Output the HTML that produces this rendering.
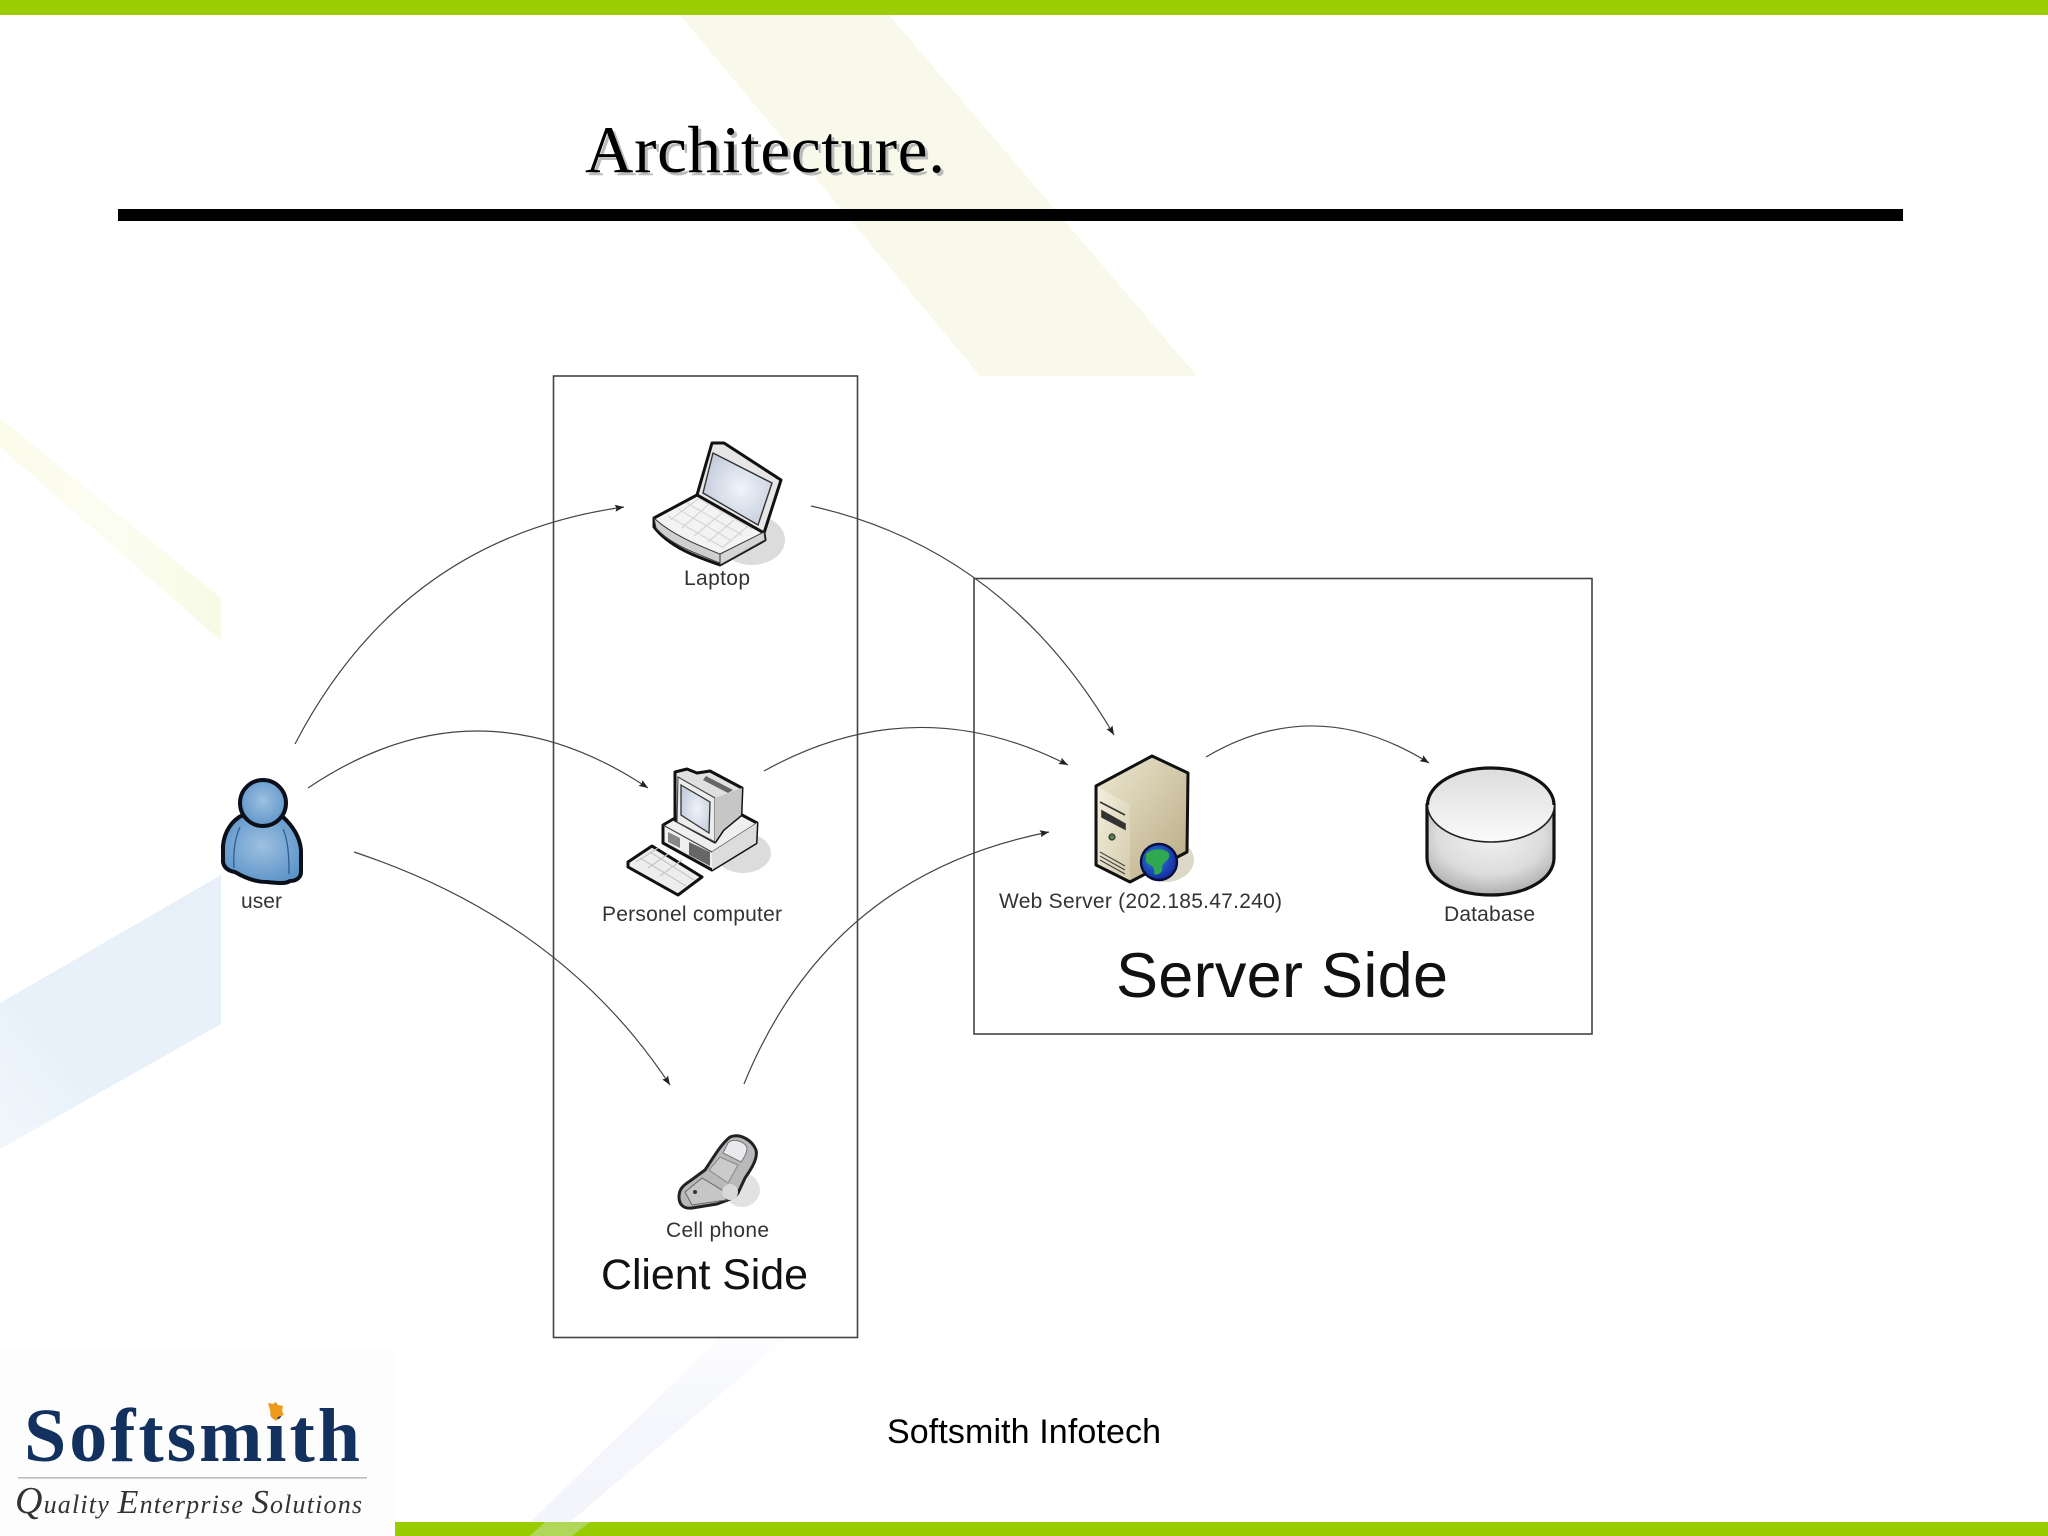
<!DOCTYPE html>
<html lang="en">
<head>
<meta charset="utf-8">
<title>Architecture</title>
<style>
html,body{margin:0;padding:0;background:#fff;width:2048px;height:1536px;overflow:hidden}
svg{display:block}
.s{font-family:"Liberation Sans",Arial,sans-serif}
.t{font-family:"Liberation Serif","Times New Roman",serif}
.lab{fill:#333;font-size:21px}
</style>
</head>
<body>
<svg xmlns="http://www.w3.org/2000/svg" width="2048" height="1536" viewBox="0 0 2048 1536">
<defs>
<marker id="ah" markerUnits="userSpaceOnUse" markerWidth="10" markerHeight="8" refX="9" refY="3.5" orient="auto">
<path d="M0 0L9 3.5L0 7L1.5 3.5Z" fill="#222"/>
</marker>
<radialGradient id="ub" cx=".5" cy=".45" r=".6"><stop offset="0" stop-color="#9dc0e0"/><stop offset="1" stop-color="#5b93c8"/></radialGradient>
<radialGradient id="scr" cx=".55" cy=".5" r=".6"><stop offset="0" stop-color="#f0f4fa"/><stop offset="1" stop-color="#c3ccdb"/></radialGradient>
<radialGradient id="cyl" cx=".5" cy=".35" r=".7"><stop offset="0" stop-color="#f2f2f2"/><stop offset=".6" stop-color="#dcdcdc"/><stop offset="1" stop-color="#a6a6a6"/></radialGradient>
<linearGradient id="cylt" x1="0" y1="0" x2="0" y2="1"><stop offset="0" stop-color="#dcdcdc"/><stop offset="1" stop-color="#fafafa"/></linearGradient>
<linearGradient id="srv" x1="0" y1="0" x2="1" y2="1"><stop offset="0" stop-color="#efe9d3"/><stop offset="1" stop-color="#b7aa82"/></linearGradient>
<linearGradient id="srvf" x1="0" y1="0" x2="1" y2="1"><stop offset="0" stop-color="#f2eedd"/><stop offset="1" stop-color="#d5ccac"/></linearGradient>
<radialGradient id="gl" cx=".4" cy=".4" r=".65"><stop offset="0" stop-color="#2f7fe0"/><stop offset="1" stop-color="#12259c"/></radialGradient>
<linearGradient id="fadeB" x1="0" y1="0" x2="0" y2="1"><stop offset="0" stop-color="#f7f8fc" stop-opacity=".4"/><stop offset=".5" stop-color="#f4f6fb"/><stop offset="1" stop-color="#f3f5fb"/></linearGradient>
<linearGradient id="fadeY" x1="0" y1="0" x2="1" y2="0"><stop offset="0" stop-color="#fbfcea"/><stop offset=".5" stop-color="#fcfdf2"/><stop offset="1" stop-color="#f8fae6"/></linearGradient>
<linearGradient id="fadeL" x1="0" y1="1" x2="1" y2="0"><stop offset="0" stop-color="#f2f7fc"/><stop offset=".3" stop-color="#e8f1f9"/><stop offset="1" stop-color="#e7f0f9"/></linearGradient>
</defs>

<!-- background -->
<rect width="2048" height="1536" fill="#fff"/>
<polygon points="680,15 889,15 1197,376 980,376" fill="#f8f9ea"/>
<polygon points="0,418 221,598 221,641 0,447" fill="url(#fadeY)"/>
<polygon points="0,1003 221,875 221,1024 0,1149" fill="url(#fadeL)"/>
<polygon points="720,1338 787,1338 570,1522 530,1522" fill="url(#fadeB)"/>
<rect x="0" y="1350" width="395" height="186" fill="#fdfdfd"/>

<!-- bars -->
<rect x="0" y="0" width="2048" height="15" fill="#9ccc04"/>
<rect x="395" y="1522" width="1653" height="14" fill="#99cc00"/>
<polygon points="545,1522 590,1522 572,1536 530,1536" fill="#b0d75a"/>

<!-- title -->
<text class="t" x="585" y="172" font-size="67" textLength="360" lengthAdjust="spacing" fill="#000" style="filter:drop-shadow(3px 3px 0 #bbb)">Architecture.</text>
<rect x="118" y="209" width="1785" height="12" fill="#000"/>

<!-- boxes -->
<rect x="553.5" y="376" width="304" height="961.5" fill="none" stroke="#444" stroke-width="1.6"/>
<rect x="974" y="578.5" width="618" height="455.5" fill="none" stroke="#444" stroke-width="1.6"/>

<!-- connectors -->
<g fill="none" stroke="#444" stroke-width="1.2" marker-end="url(#ah)">
<path d="M295 744Q402 538 624 507"/>
<path d="M308 788Q477 674 648 788"/>
<path d="M354 852Q562 921 670 1085"/>
<path d="M744 1084Q829 875 1049 832"/>
<path d="M764 771Q915 687 1068 765"/>
<path d="M811 506Q1005 549 1114 735"/>
<path d="M1206 757Q1316 692 1429 763"/>
</g>

<!-- user -->
<path d="M243 815C232 820 224 832 223 846L223 862C224 868 229 871 235 872C245 878 256 882 267 882C278 883 286 884 290 881C297 881 301 877 301 872L301 850C300 838 293 826 282 816Z" fill="url(#ub)" stroke="#0a0f1a" stroke-width="4" stroke-linejoin="round"/>
<path d="M240 827C235 838 233 852 234 868M283 829C288 840 289 855 289 874" fill="none" stroke="#2f5d8f" stroke-width="1.3"/>
<circle cx="263" cy="803" r="23" fill="url(#ub)" stroke="#0a0f1a" stroke-width="4"/>

<!-- laptop -->
<ellipse cx="752" cy="540" rx="33" ry="25" fill="#dcdcdc"/>
<path d="M712 443L724 443L781 480L764 533L697 495Z" fill="#e6e6e6" stroke="#111" stroke-width="3" stroke-linejoin="round"/>
<polygon points="713,453 772,483 758,525 703,493" fill="url(#scr)" stroke="#333" stroke-width="1.4"/>
<path d="M654 518L697 495L764 533L765 540L720 565C700 558 670 548 654 527Z" fill="#f3f3f3" stroke="#111" stroke-width="3" stroke-linejoin="round"/>
<path d="M654 518L656 528C670 545 700 555 720 563L720 554C700 546 672 535 654 518Z" fill="#cfcfcf" stroke="#333" stroke-width="1"/>
<path d="M720 554L764 532L765 540L720 565Z" fill="#d5d5d5" stroke="#333" stroke-width="1"/>
<g stroke="#d6d6d6" stroke-width="1.2" fill="none">
<path d="M668 516L722 547M678 509L732 541M687 503L742 535M698 498L752 529"/>
<path d="M670 520L698 499M682 528L708 505M694 536L722 513M708 542L734 520M722 548L748 526"/>
</g>

<!-- personal computer -->
<ellipse cx="743" cy="853" rx="28" ry="20" fill="#dcdcdc"/>
<path d="M663 825L675 818L742 815L757 823L756 843L712 870L663 843Z" fill="#efefef" stroke="#111" stroke-width="3" stroke-linejoin="round"/>
<path d="M663 825L712 852L757 823" fill="none" stroke="#444" stroke-width="1.2"/>
<path d="M712 852L757 823L756 843L712 870Z" fill="#dcdcdc"/>
<path d="M689 842L710 852L710 866L689 855Z" fill="#666"/>
<path d="M668 832L680 838L680 848L668 842Z" fill="#888"/>
<path d="M675 772L687 769L697 773L710 771L742 788L741 815L723 830L715 842L675 820Z" fill="#e0e0e0" stroke="#111" stroke-width="3" stroke-linejoin="round"/>
<polygon points="678,777 715,798 715,842 677,822" fill="#ececec" stroke="#444" stroke-width="1.1"/>
<polygon points="681,785 710,802 709,833 681,815" fill="url(#scr)" stroke="#333" stroke-width="1.3"/>
<polygon points="715,798 742,788 741,815 723,830 715,842" fill="#c6c6c6"/>
<polygon points="706,776 733,790 728,793 703,780" fill="#666"/>
<path d="M628 862L652 846L702 877L678 895L628 867Z" fill="#ededed" stroke="#111" stroke-width="3" stroke-linejoin="round"/>
<path d="M636 862L658 848M648 868L668 854M660 876L682 860M640 858L686 886M650 852L694 880" stroke="#c6c6c6" stroke-width="1.2" fill="none"/>

<!-- cell phone -->
<ellipse cx="742" cy="1190" rx="18" ry="17" fill="#e2e2e2"/>
<path d="M679 1197C679 1190 682 1186 690 1181L705 1170C712 1160 720 1145 730 1137C740 1133 752 1140 756 1150C758 1158 752 1168 745 1178L738 1193C735 1198 725 1201 717 1204L692 1208C684 1209 679 1205 679 1197Z" fill="#b9b9b9" stroke="#222" stroke-width="3" stroke-linejoin="round"/>
<path d="M728 1143C733 1138 745 1141 747 1148C747 1153 744 1158 741 1162L723 1153Z" fill="#e9e9ee" stroke="#777" stroke-width="1"/>
<polygon points="720,1157 738,1165 728,1183 709,1170" fill="#cbcbcb" stroke="#888" stroke-width="1"/>
<path d="M685 1192L702 1178L722 1190L726 1200L692 1205Z" fill="#c6c6c6" stroke="#666" stroke-width="1"/>
<circle cx="730" cy="1192" r="8" fill="#d8d8d8"/>
<circle cx="695" cy="1192" r="2" fill="#333"/>

<!-- server -->
<ellipse cx="1165" cy="860" rx="29" ry="22" fill="#dcd9c8"/>
<polygon points="1096,786 1152,756 1188,773 1187,852 1130,882 1096,865" fill="url(#srv)"/>
<polygon points="1098,787 1130,805 1130,881 1098,865" fill="url(#srvf)"/>
<path d="M1100 802L1125 815M1102 811L1125 824L1125 829L1102 817Z" fill="#333" stroke="#333" stroke-width="1.6"/>
<circle cx="1112" cy="837" r="3" fill="#5a7f4a" stroke="#333" stroke-width="1.2"/>
<path d="M1100 852L1125 866M1100 856L1125 870M1100 860L1125 874" stroke="#444" stroke-width="1.1"/>
<path d="M1096 786L1152 756L1188 773L1187 852L1130 882L1096 865Z" fill="none" stroke="#111" stroke-width="3" stroke-linejoin="round"/>
<circle cx="1159" cy="862" r="18" fill="url(#gl)" stroke="#0a0f3a" stroke-width="2.4"/>
<path d="M1146 854C1152 848 1162 848 1168 852C1172 858 1166 860 1162 866C1164 872 1158 876 1154 874C1156 866 1150 866 1146 862Z" fill="#2fa84f"/>

<!-- database -->
<ellipse cx="1506" cy="870" rx="27" ry="24" fill="#dcdcdc"/>
<path d="M1427 805V858C1427 879 1455 895 1491 895C1526 895 1554 879 1554 858V805Z" fill="url(#cyl)" stroke="#111" stroke-width="3.2"/>
<ellipse cx="1491" cy="805" rx="63.5" ry="37" fill="url(#cylt)" stroke="#222" stroke-width="1.6"/>
<path d="M1427.5 805C1427.5 785 1455 768 1491 768C1526 768 1554 785 1554 805" fill="none" stroke="#111" stroke-width="3.2"/>

<!-- labels -->
<text class="s lab" x="684" y="585" textLength="66" lengthAdjust="spacing">Laptop</text>
<text class="s lab" x="602" y="921" textLength="180" lengthAdjust="spacing">Personel computer</text>
<text class="s lab" x="241" y="908" textLength="41" lengthAdjust="spacing">user</text>
<text class="s lab" x="999" y="908" textLength="283" lengthAdjust="spacing">Web Server (202.185.47.240)</text>
<text class="s lab" x="1444" y="921" textLength="91" lengthAdjust="spacing">Database</text>
<text class="s lab" x="666" y="1237" textLength="103" lengthAdjust="spacing">Cell phone</text>
<text class="s" x="601" y="1289" font-size="43" textLength="207" lengthAdjust="spacing" fill="#111">Client Side</text>
<text class="s" x="1116" y="997" font-size="63" textLength="332" lengthAdjust="spacing" fill="#111">Server Side</text>
<text class="s" x="887" y="1443" font-size="34" textLength="274" lengthAdjust="spacing" fill="#000">Softsmith Infotech</text>

<!-- logo -->
<text class="t" x="24" y="1461" font-size="76" font-weight="bold" textLength="336" lengthAdjust="spacing" fill="#12315e">Softsmith</text>
<path d="M268 1403l5 1 3-2 2 3 5 1-1 5 2 4-6 2-2 4-5-4-1-7z" fill="#f09a1c"/>
<rect x="18" y="1477" width="349" height="1.6" fill="#bdbdbd"/>
<text class="t" x="15" y="1513" font-size="26" font-style="italic" textLength="347" lengthAdjust="spacing" fill="#333"><tspan font-size="38">Q</tspan>uality <tspan font-size="34">E</tspan>nterprise <tspan font-size="34">S</tspan>olutions</text>
</svg>
</body>
</html>
